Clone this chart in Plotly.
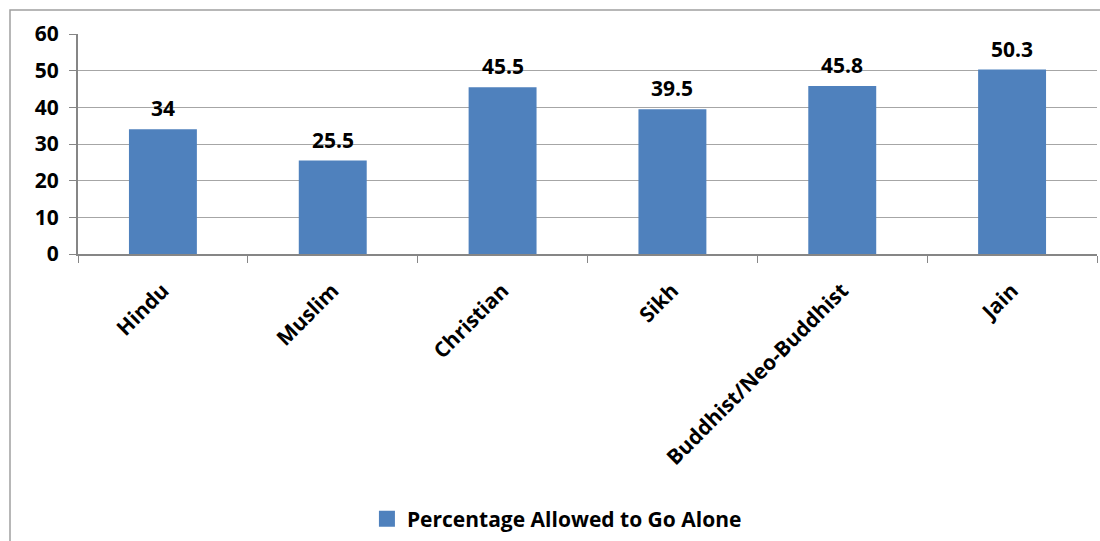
import plotly.graph_objects as go

# Religion groups and the share of women allowed to go out alone
religions = ["Hindu", "Muslim", "Christian", "Sikh", "Buddhist/Neo-Buddhist", "Jain"]
pct_alone = [34, 25.5, 45.5, 39.5, 45.8, 50.3]
series_name = "Percentage Allowed to Go Alone"
y_ticks = [0, 10, 20, 30, 40, 50, 60]

FONT = "'Open Sans', sans-serif"
FS = 21
BAR = "#4F81BD"
GRID = "#A6A6A6"
AXIS = "#868686"
bold = dict(family=FONT, size=FS, color="#000000", weight="bold")

fig = go.Figure()
fig.add_trace(
    go.Bar(
        x=religions,
        y=pct_alone,
        name=series_name,
        marker=dict(color=BAR, line=dict(width=0)),
        width=0.4,
        showlegend=False,
        legendgroup="s",
    )
)
# legend entry with a larger square swatch
fig.add_trace(
    go.Scatter(
        x=[None], y=[None], mode="markers", name=series_name,
        marker=dict(symbol="square", size=16, color=BAR),
        legendgroup="s", showlegend=True,
    )
)

# value labels above each bar
for r, v in zip(religions, pct_alone):
    fig.add_annotation(
        x=r, y=v, text=f"{v:g}", showarrow=False,
        yanchor="bottom", yshift=5, font=bold,
    )

W, H = 1100, 541
m_l, m_r, m_t, m_b = 78, 3, 34, 286
ph = H - m_t - m_b
pw = W - m_l - m_r

fig.update_layout(
    width=W,
    height=H,
    margin=dict(l=m_l, r=m_r, t=m_t, b=m_b),
    paper_bgcolor="white",
    plot_bgcolor="white",
    font=bold,
    showlegend=True,
    legend=dict(
        orientation="h",
        x=0.47,
        xanchor="center",
        y=-(519 - 255) / ph,
        yanchor="middle",
        font=bold,
        itemwidth=30,
        bgcolor="rgba(0,0,0,0)",
    ),
    shapes=[
        # outer chart border (bottom and right edges fall outside the canvas)
        dict(type="rect", xref="paper", yref="paper",
             x0=(10 - m_l) / pw, x1=1.05,
             y0=-(m_b + 10) / ph, y1=1 + 24 / ph,
             line=dict(color="#A0A0A0", width=1.5), layer="below"),
    ],
)

fig.update_xaxes(
    type="category",
    tickangle=-45,
    showline=True,
    linecolor=AXIS,
    linewidth=2,
    ticks="outside",
    tickson="boundaries",
    ticklen=7,
    tickcolor=AXIS,
    showgrid=False,
    ticklabelstandoff=14,
    tickfont=bold,
)

fig.update_yaxes(
    range=[0, 60],
    tickvals=y_ticks,
    showline=True,
    linecolor=AXIS,
    linewidth=2,
    ticks="outside",
    ticklen=7,
    tickcolor=AXIS,
    showgrid=True,
    gridcolor=GRID,
    gridwidth=1.2,
    zeroline=False,
    ticklabelstandoff=6,
    tickfont=bold,
)

fig.write_html("out.html")
